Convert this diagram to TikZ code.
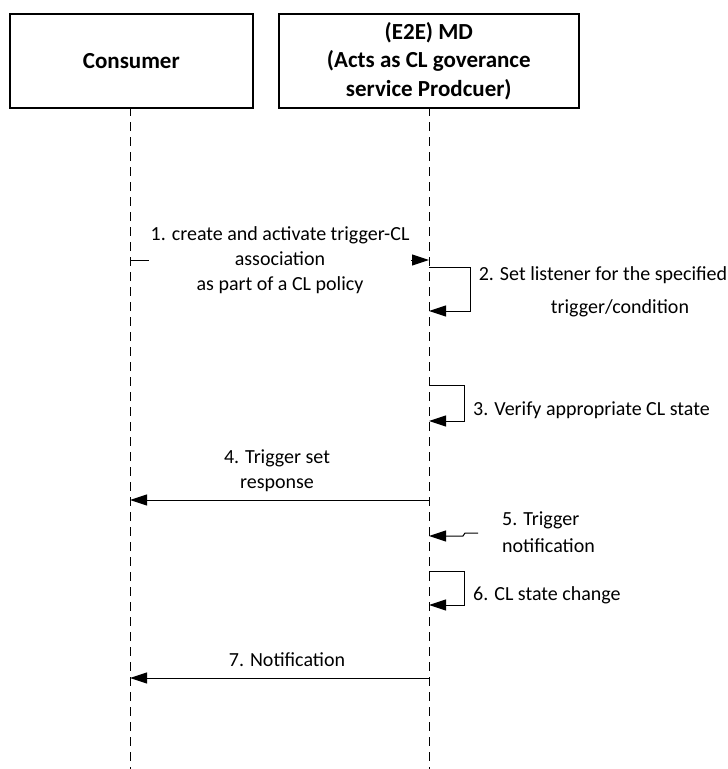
\documentclass[tikz,border=0pt]{standalone}
\usepackage{fontspec}
\setmainfont{Carlito}
\usetikzlibrary{arrows.meta}
\begin{document}
\begin{tikzpicture}[x=1pt,y=-1pt,
  header/.style={draw, line width=1.6pt, minimum width=243pt, minimum height=94pt,
    anchor=north west, font=\fontsize{23}{28.5}\selectfont\bfseries, align=center},
  lifeline/.style={line width=0.9pt, dash pattern=on 9pt off 6pt},
  msg/.style={line width=1pt, -{Triangle[length=17pt,width=11pt]}},
  lbl/.style={font=\fontsize{20}{25}\selectfont, inner sep=1pt, align=center}
]
\useasboundingbox (0,0) rectangle (728,769);

% participants
\node[header] (cons) at (9,13) {Consumer};
\node[header, minimum width=300pt] (md) at (278,13)
  {(E2E) MD\\(Acts as CL goverance\\service Prodcuer)};

% lifelines
\coordinate (cTop) at (130,107);
\coordinate (cBot) at (130,769);
\coordinate (mTop) at (429,107);
\coordinate (mBot) at (429,769);
\draw[lifeline] (cTop) -- (cBot);
\draw[lifeline] (mTop) -- (mBot);

% 1. association request
\coordinate (c1) at (130,260);
\coordinate (m1) at (429,260);
\draw[msg] (c1) -- (m1);
\node[lbl, fill=white, inner xsep=2pt] (l1) at (280,260)
  {1. create and activate trigger-CL\\association\\as part of a CL policy};

% 2. self call: set listener
\coordinate (m2a) at (429,267);
\coordinate (m2b) at (470,267);
\coordinate (m2c) at (470,311);
\coordinate (m2d) at (429,311);
\draw[msg] (m2a) -- (m2b) -- (m2c) -- (m2d);
\node[lbl] (l2a) at (603,275) {2. Set listener for the specified};
\node[lbl] (l2b) at (620,308) {trigger/condition};

% 3. self call: verify state
\coordinate (m3a) at (429,385);
\coordinate (m3b) at (464,385);
\coordinate (m3c) at (464,421);
\coordinate (m3d) at (429,421);
\draw[msg] (m3a) -- (m3b) -- (m3c) -- (m3d);
\node[lbl, anchor=west] (l3) at (472,410) {3. Verify appropriate CL state};

% 4. trigger set response
\coordinate (m4) at (429,500);
\coordinate (c4) at (130,500);
\draw[msg] (m4) -- (c4);
\node[lbl] (l4) at (277,471) {4. Trigger set\\response};

% 5. trigger notification
\coordinate (t5a) at (478,533);
\coordinate (t5b) at (465,533);
\coordinate (t5c) at (463,536);
\coordinate (m5) at (429,536);
\draw[msg] (t5a) -- (t5b) -- (t5c) -- (m5);
\node[lbl, anchor=west, align=left, font=\fontsize{20}{27}\selectfont] (l5) at (501,532)
  {5. Trigger\\notification};

% 6. self call: state change
\coordinate (m6a) at (429,571);
\coordinate (m6b) at (464,571);
\coordinate (m6c) at (464,605);
\coordinate (m6d) at (429,605);
\draw[msg] (m6a) -- (m6b) -- (m6c) -- (m6d);
\node[lbl, anchor=west] (l6) at (472,595) {6. CL state change};

% 7. notification
\coordinate (m7) at (429,678);
\coordinate (c7) at (130,678);
\draw[msg] (m7) -- (c7);
\node[lbl] (l7) at (287,660) {7. Notification};
\end{tikzpicture}
\end{document}
